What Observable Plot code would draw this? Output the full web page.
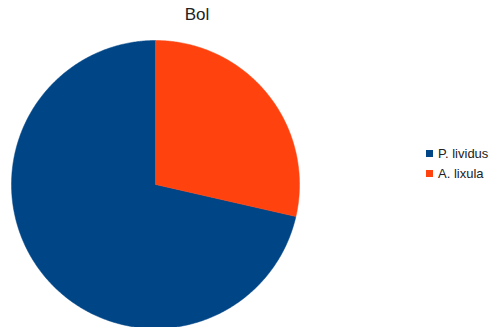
<!DOCTYPE html>
<html>
<head>
<meta charset="utf-8">
<script src="https://cdn.jsdelivr.net/npm/d3@7"></script>
<script src="https://cdn.jsdelivr.net/npm/@observablehq/plot@0.6"></script>
<style>
  html, body { margin: 0; padding: 0; background: #fff; }
  #wrap { position: relative; width: 493px; height: 327px; overflow: hidden; font-family: "Liberation Sans", Arial, sans-serif; }
  #title { position: absolute; left: 0; top: 5px; width: 394px; text-align: center; font-size: 17px; color: #222; }
  .leg { position: absolute; left: 426px; font-size: 13px; color: #222; white-space: nowrap; line-height: 1; }
  .leg span.sw { display: inline-block; width: 7px; height: 7px; margin-right: 5px; vertical-align: 1px; }
</style>
</head>
<body>
<div id="wrap">
  <div id="chart"></div>
  <div id="title"></div>
  <div id="legend"></div>
</div>
<script>
const title = "Bol";
const species = ["P. lividus", "A. lixula"];
const counts = [10, 4];
const colors = ["#004586", "#ff420e"];

const total = d3.sum(counts);
const offset = 2 * Math.PI * counts[1] / total;
const pie = d3.pie().sort(null).startAngle(offset).endAngle(offset + 2 * Math.PI);
const arcs = pie(counts);

const pts = [];
arcs.forEach((a, i) => {
  const name = species[i];
  pts.push({series: name, x: 0, y: 0});
  const n = Math.max(2, Math.ceil((a.endAngle - a.startAngle) / (Math.PI / 360)));
  for (let k = 0; k <= n; k++) {
    const t = a.startAngle + (a.endAngle - a.startAngle) * k / n;
    pts.push({series: name, x: Math.sin(t), y: Math.cos(t)});
  }
  pts.push({series: name, x: 0, y: 0});
});

const chart = Plot.plot({
  width: 493,
  height: 327,
  margin: 0,
  x: {domain: [-1, 1], range: [11, 299], axis: null},
  y: {domain: [-1, 1], range: [328, 40], axis: null},
  color: {domain: species, range: colors},
  marks: [
    Plot.line(pts, {x: "x", y: "y", z: "series", fill: "series", stroke: "series", strokeWidth: 0.5, curve: "linear"})
  ]
});
document.getElementById("chart").appendChild(chart);
document.getElementById("title").textContent = title;

const legend = document.getElementById("legend");
species.forEach((s, i) => {
  const d = document.createElement("div");
  d.className = "leg";
  d.style.top = (147 + i * 19.5) + "px";
  d.innerHTML = `<span class="sw" style="background:${colors[i]}"></span>`;
  d.appendChild(document.createTextNode(s));
  legend.appendChild(d);
});
</script>
</body>
</html>
